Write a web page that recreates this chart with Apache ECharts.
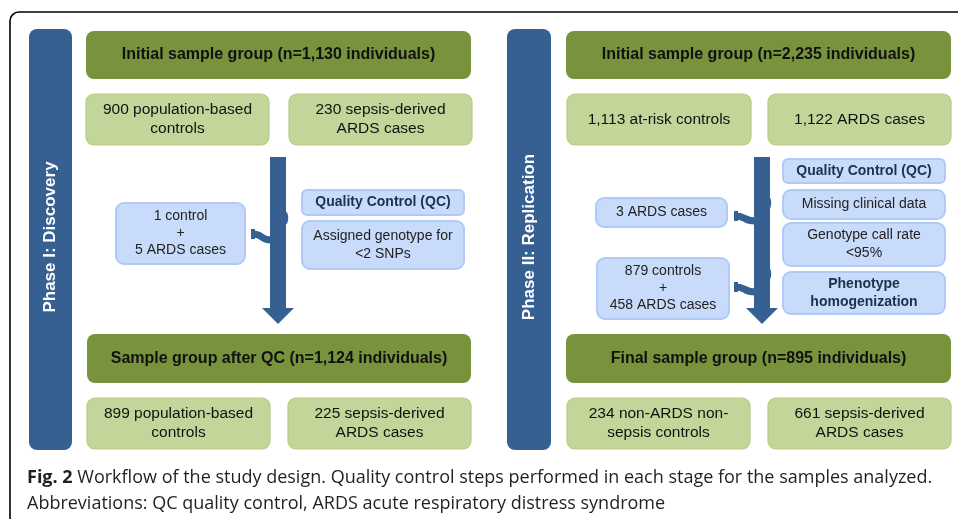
<!DOCTYPE html>
<html>
<head>
<meta charset="utf-8">
<script src="https://cdn.jsdelivr.net/npm/echarts@6/dist/echarts.min.js"></script>
<style>html,body{margin:0;padding:0;background:#fff;}#c{width:958px;height:519px;}</style>
</head>
<body>
<div id="c"></div>
<script>
// ---- content (text only) ----
const phaseLabels = ['Phase I: Discovery', 'Phase II: Replication'];
const headerTexts = [
  'Initial sample group (n=1,130 individuals)',
  'Sample group after QC (n=1,124 individuals)',
  'Initial sample group (n=2,235 individuals)',
  'Final sample group (n=895 individuals)'
];
const groupTexts = [
  '900 population-based\ncontrols', '230 sepsis-derived\nARDS cases',
  '899 population-based\ncontrols', '225 sepsis-derived\nARDS cases',
  '1,113 at-risk controls', '1,122 ARDS cases',
  '234 non-ARDS non-\nsepsis controls', '661 sepsis-derived\nARDS cases'
];
const excludedTexts = ['1 control\n+\n5 ARDS cases', '3 ARDS cases', '879 controls\n+\n458 ARDS cases'];
const qcTitle = 'Quality Control (QC)';
const qcSteps = [
  ['Assigned genotype for\n<2 SNPs'],
  ['Missing clinical data', 'Genotype call rate\n<95%', 'Phenotype\nhomogenization']
];
const qcStepBold = [[false], [false, false, true]];
const captionLines = [
  ['Fig. 2', ' Workflow of the study design. Quality control steps performed in each stage for the samples analyzed.'],
  ['', 'Abbreviations: QC quality control, ARDS acute respiratory distress syndrome']
];

// ---- layout ----
const C = {
  darkGreen: '#77933c', lightGreen: '#c2d69a', lightGreenBorder: '#b4cc8a',
  blue: '#376092', lightBlue: '#c9dbfa', lightBlueBorder: '#b0caf6',
  navy: '#1c2f4f', text: '#111', caption: '#231f20'
};
const FONT = 'Liberation Sans, Arial, sans-serif';
const bars = [[29, 29, 43, 421], [507, 29, 44, 421]];
const headers = [[86, 31, 385, 48], [87, 334, 384, 49], [566, 31, 385, 48], [566, 334, 385, 49]];
const groups = [
  [86, 94, 183, 51], [289, 94, 183, 51],
  [87, 398, 183, 51], [288, 398, 183, 51],
  [567, 94, 184, 51], [768, 94, 183, 51],
  [567, 398, 183, 51], [768, 398, 183, 51]
];
const excluded = [[116, 203, 129, 61], [596, 198, 131, 29], [597, 258, 132, 61]];
const qcTitleBoxes = [[302, 190, 162, 25], [783, 159, 162, 24]];
const qcStepBoxes = [
  [[302, 221, 162, 48]],
  [[783, 190, 162, 29], [783, 223, 162, 43], [783, 272, 162, 42]]
];
const arrows = [[278, 157, 308, 324], [762, 157, 308, 324]]; // cx, top, headTop, tip
const connectors = [[251, 234, 271, 240], [734, 216, 755, 221], [734, 287, 755, 292]];
const bumps = [[286, 218], [769, 203], [769, 274]];

const g = [];
// outer frame (rounded top-left corner, runs off the right and bottom edges)
g.push({ type: 'rect', shape: { x: 10, y: 12, width: 1100, height: 700, r: 9 },
  style: { stroke: '#000', lineWidth: 1.6, fill: null } });

function box(r, fill, stroke, lw, radius) {
  g.push({ type: 'rect', shape: { x: r[0], y: r[1], width: r[2], height: r[3], r: radius },
    style: { fill: fill, stroke: stroke, lineWidth: lw } });
}
function label(r, text, size, weight, color, lh) {
  g.push({ type: 'text', x: r[0] + r[2] / 2, y: r[1] + r[3] / 2,
    style: { text: text, fontFamily: FONT, fontSize: size, fontWeight: weight, fill: color,
      align: 'center', verticalAlign: 'middle', lineHeight: lh } });
}

bars.forEach((r, i) => {
  box(r, C.blue, null, 0, 8);
  g.push({ type: 'text', x: r[0] + r[2] / 2, y: r[1] + 208, rotation: Math.PI / 2,
    style: { text: phaseLabels[i], fontFamily: FONT, fontSize: 17, fontWeight: 'bold', fill: '#fff',
      align: 'center', verticalAlign: 'middle' } });
});
headers.forEach((r, i) => { box(r, C.darkGreen, null, 0, 8); label(r, headerTexts[i], 16, 'bold', C.text, 20); });
groups.forEach((r, i) => { box(r, C.lightGreen, C.lightGreenBorder, 1.2, 8); label(r, groupTexts[i], 15.5, 'normal', C.text, 19); });

// arrows
arrows.forEach(a => {
  const [cx, top, ht, tip] = a;
  g.push({ type: 'polygon', shape: { points: [[cx - 8, top], [cx + 8, top], [cx + 8, ht], [cx + 16, ht], [cx, tip], [cx - 16, ht], [cx - 8, ht]] },
    style: { fill: C.blue } });
});
bumps.forEach(b => g.push({ type: 'ellipse', shape: { cx: b[0], cy: b[1], rx: 2.2, ry: 6 }, style: { fill: C.blue } }));
connectors.forEach(c => {
  const [x0, y0, x1, y1] = c;
  g.push({ type: 'rect', shape: { x: x0, y: y0 - 5, width: 4, height: 10 }, style: { fill: C.blue } });
  g.push({ type: 'bezierCurve', shape: { x1: x0 + 2, y1: y0, cpx1: x0 + 12, cpy1: y0, cpx2: x0 + 9, cpy2: y1, x2: x1, y2: y1 },
    style: { stroke: C.blue, lineWidth: 7, fill: null } });
});

excluded.forEach((r, i) => { box(r, C.lightBlue, C.lightBlueBorder, 2, 8); label(r, excludedTexts[i], 14, 'normal', '#222', 17); });
qcTitleBoxes.forEach(r => { box(r, C.lightBlue, C.lightBlueBorder, 2, 5); label(r, qcTitle, 14, 'bold', C.navy, 17); });
qcStepBoxes.forEach((list, p) => list.forEach((r, i) => {
  box(r, C.lightBlue, C.lightBlueBorder, 2, 8);
  label(r, qcSteps[p][i], 14, qcStepBold[p][i] ? 'bold' : 'normal', qcStepBold[p][i] ? C.navy : '#222', 18);
}));

// caption
captionLines.forEach((ln, i) => {
  g.push({ type: 'text', x: 27, y: 478 + i * 26,
    style: { text: (ln[0] ? '{b|' + ln[0] + '}' : '') + ln[1], fontFamily: 'Open Sans, sans-serif', fontSize: 18,
      fill: C.caption, verticalAlign: 'middle', align: 'left',
      rich: { b: { fontWeight: 'bold', fontFamily: 'Open Sans, sans-serif', fontSize: 18, fill: C.caption } } } });
});

const chart = echarts.init(document.getElementById('c'), null, { renderer: 'canvas' });
chart.setOption({ animation: false, graphic: { elements: g } });
</script>
</body>
</html>
